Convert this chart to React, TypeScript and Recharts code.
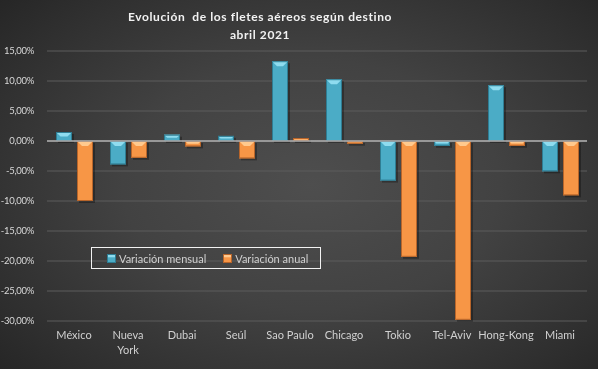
import React from 'react';
import {
  BarChart,
  Bar,
  XAxis,
  YAxis,
  CartesianGrid,
  ReferenceLine,
} from 'recharts';

const cities = [
  'México',
  'Nueva York',
  'Dubai',
  'Seúl',
  'Sao Paulo',
  'Chicago',
  'Tokio',
  'Tel-Aviv',
  'Hong-Kong',
  'Miami',
];
const monthly = [1.5, -3.9, 1.05, 0.85, 13.3, 10.3, -6.6, -0.8, 9.3, -5.05];
const yearly = [-10.0, -2.8, -0.9, -2.9, 0.5, -0.45, -19.3, -29.8, -0.8, -9.05];
const yTicks = [15, 10, 5, 0, -5, -10, -15, -20, -25, -30];

const SERIES = [
  { key: 'mensual', name: 'Variación mensual', fill: '#4bacc6', light: '#8fdcef', dark: '#2f7d93' },
  { key: 'anual', name: 'Variación anual', fill: '#f79646', light: '#ffc98e', dark: '#b8652a' },
];

const FONT = 'Lato, "Open Sans", sans-serif';

const data = cities.map((city, i) => ({
  city,
  mensual: monthly[i],
  anual: yearly[i],
}));

function fmtPct(v: number) {
  return v.toFixed(2).replace('.', ',') + '%';
}

function BevelBar(props: any, s: typeof SERIES[number]) {
  const { x, y, width, height } = props;
  if (width == null || height == null) return null;
  const top = Math.min(y, y + height);
  const h = Math.abs(height);
  if (h < 0.5) return null;
  const b = Math.min(5, h / 2);
  return (
    <g>
      <rect x={x + 2} y={top + 2} width={width} height={h} fill="rgba(0,0,0,0.3)" />
      <rect x={x} y={top} width={width} height={h} fill={s.fill} />
      <polygon
        points={`${x},${top} ${x + width},${top} ${x + width - b},${top + b} ${x + b},${top + b}`}
        fill={s.light}
      />
      <rect x={x + 0.5} y={top + 0.5} width={width - 1} height={h - 1} fill="none" stroke={s.dark} strokeWidth={1} />
    </g>
  );
}

function CityTick({ x, y, payload }: any) {
  const label: string = payload.value;
  const lines = label.length > 9 && label.includes(' ') ? label.split(' ') : [label];
  return (
    <text x={x} y={y} textAnchor="middle" fill="#d0d0d0" fontSize={11} fontFamily={FONT}>
      {lines.map((l, i) => (
        <tspan key={i} x={x} dy={i === 0 ? 10 : 15}>
          {l}
        </tspan>
      ))}
    </text>
  );
}

function LegendBox() {
  return (
    <div
      style={{
        position: 'absolute',
        left: 91,
        top: 247,
        width: 228,
        height: 20,
        border: '1.5px solid #f2f2f2',
        display: 'flex',
        alignItems: 'center',
        fontFamily: FONT,
        fontSize: 11,
        color: '#d0d0d0',
        boxSizing: 'content-box',
      }}
    >
      {SERIES.map((s, i) => (
        <span
          key={s.key}
          style={{ display: 'flex', alignItems: 'center', marginLeft: i === 0 ? 15 : 17 }}
        >
          <span
            style={{
              width: 7,
              height: 7,
              background: `linear-gradient(${s.light} 0%, ${s.light} 35%, ${s.fill} 36%)`,
              border: `1px solid ${s.dark}`,
              marginRight: 3,
            }}
          />
          {s.name}
        </span>
      ))}
    </div>
  );
}

export default function App() {
  return (
    <div
      style={{
        position: 'fixed',
        left: 0,
        top: 0,
        width: 598,
        height: 369,
        background:
          'radial-gradient(ellipse 70% 75% at 52% 50%, #4e4e4e 0%, #424242 45%, #2e2e2e 85%, #262626 100%)',
      }}
    >
      <div
        style={{
          position: 'absolute',
          left: 0,
          top: 8,
          width: 520,
          textAlign: 'center',
          color: '#f2f2f2',
          fontFamily: FONT,
          fontWeight: 700,
          fontSize: 12,
          letterSpacing: 0.6,
          lineHeight: '18px',
          whiteSpace: 'pre',
        }}
      >
        {'Evolución  de los fletes aéreos según destino\nabril 2021'}
      </div>
      <BarChart
        width={598}
        height={369}
        data={data}
        margin={{ top: 51, right: 11, bottom: 0, left: 0 }}
        barCategoryGap={8}
        barGap={5}
        style={{ position: 'absolute', left: 0, top: 0 }}
      >
        <CartesianGrid vertical={false} stroke="#5c5c5c" strokeWidth={1} />
        <XAxis
          dataKey="city"
          axisLine={false}
          tickLine={false}
          height={48}
          interval={0}
          tick={<CityTick />}
        />
        <YAxis
          width={47}
          domain={[-30, 15]}
          ticks={yTicks}
          axisLine={false}
          tickLine={false}
          tickMargin={7}
          tickFormatter={fmtPct}
          tick={{ fill: '#d8d8d8', fontSize: 9.5, fontFamily: FONT, letterSpacing: -0.3 }}
          interval={0}
        />
        <ReferenceLine y={0} stroke="#b0b0b0" strokeWidth={1.5} />
        {SERIES.map((s) => (
          <Bar
            key={s.key}
            dataKey={s.key}
            name={s.name}
            fill={s.fill}
            barSize={16}
            isAnimationActive={false}
            shape={(p: any) => BevelBar(p, s)}
          />
        ))}
      </BarChart>
      <LegendBox />
    </div>
  );
}
